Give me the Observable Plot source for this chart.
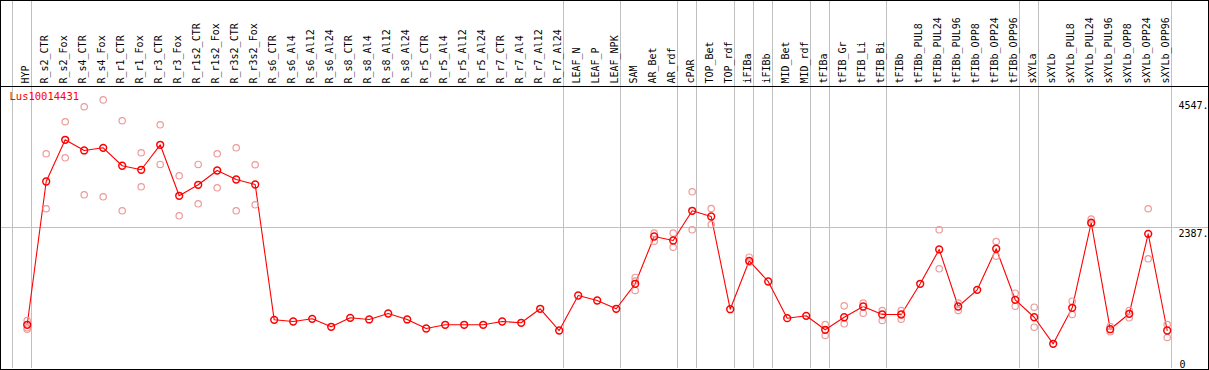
<!DOCTYPE html>
<html>
<head>
<meta charset="utf-8">
<script src="https://cdn.jsdelivr.net/npm/d3@7"></script>
<script src="https://cdn.jsdelivr.net/npm/@observablehq/plot@0.6"></script>
<style>
  html, body { margin: 0; padding: 0; background: #fff; }
  #chart svg { display: block; outline: 1px solid #000; outline-offset: -1px; }
</style>
</head>
<body>
<div id="chart"></div>
<script>
const gene = "Lus10014431";

const categories = [
  "HYP",
  "R_s2_CTR","R_s2_Fox","R_s4_CTR","R_s4_Fox","R_r1_CTR","R_r1_Fox","R_r3_CTR","R_r3_Fox",
  "R_r1s2_CTR","R_r1s2_Fox","R_r3s2_CTR","R_r3s2_Fox",
  "R_s6_CTR","R_s6_Al4","R_s6_Al12","R_s6_Al24",
  "R_s8_CTR","R_s8_Al4","R_s8_Al12","R_s8_Al24",
  "R_r5_CTR","R_r5_Al4","R_r5_Al12","R_r5_Al24",
  "R_r7_CTR","R_r7_Al4","R_r7_Al12","R_r7_Al24",
  "LEAF_N","LEAF_P","LEAF_NPK",
  "SAM","AR_Bet","AR_rdf","cPAR","TOP_Bet","TOP_rdf","iFIBa","iFIBb","MID_Bet","MID_rdf",
  "tFIBa","tFIB_Gr","tFIB_Li","tFIB_Bi","tFIBb",
  "tFIBb_PUL8","tFIBb_PUL24","tFIBb_PUL96","tFIBb_OPP8","tFIBb_OPP24","tFIBb_OPP96",
  "sXYLa","sXYLb",
  "sXYLb_PUL8","sXYLb_PUL24","sXYLb_PUL96","sXYLb_OPP8","sXYLb_OPP24","sXYLb_OPP96"
];

const means = [
  740,
  3166, 3872, 3691, 3736, 3432, 3364, 3787, 2924,
  3110, 3352, 3200, 3115,
  824, 796, 841, 706,
  858, 830, 931, 830,
  677, 740, 740, 740,
  796, 774, 1011, 643,
  1236, 1151, 1011,
  1434, 2235, 2167, 2670, 2573, 1004, 1823, 1473, 852, 892,
  655, 868, 1050, 914, 914,
  1434, 2015, 1050, 1332, 2027, 1163,
  868, 418,
  1028, 2467, 665, 926, 2280, 643
];

const replicates = [
  [813, 689, 665],
  [3635, 2704], [4177, 3567], [4431, 2941], [4547, 2907], [4194, 2670], [3652, 3076], [4126, 3454], [3262, 2585],
  [3454, 2788], [3635, 3059], [3736, 2670], [3449, 2771],
  [], [], [], [],
  [], [], [], [],
  [], [], [], [],
  [], [], [], [],
  [], [], [],
  [1541, 1480, 1321], [2291, 2155], [2291, 2054], [2991, 2348], [2709, 2438], [], [1884, 1800], [], [], [],
  [745, 559], [1061, 757], [1106, 936], [982, 813], [982, 835],
  [], [2348, 1688], [1106, 982], [], [2150, 1901], [1275, 1055],
  [1038, 699], [],
  [1139, 914], [2528, 2450], [711, 621], [982, 858], [2704, 1857], [745, 525]
];

// indices after which a grey group separator is drawn (-1 = before first)
const separators = [-1, 0, 28, 31, 34, 35, 37, 38, 39, 41, 42, 45, 52, 53, 60];

const yTickValues = [4547, 2387, 0];
const yTickLabels = ["4547.", "2387.", "0"];
const midLine = [2387];
const dataTop = [4774];

const meanData = means.map((v, i) => ({i, v}));
const repData = replicates.flatMap((arr, i) => arr.map(v => ({i, v})));
const catData = categories.map((c, i) => ({i, c}));
const tickData = yTickValues.map((v, k) => ({v, label: yTickLabels[k]}));

const W = 1209, H = 370;
const chart = Plot.plot({
  width: W,
  height: H,
  marginTop: 0,
  marginBottom: 2,
  marginLeft: 0,
  marginRight: 0,
  style: {fontFamily: "DejaVu Sans Mono", fontSize: "10px", background: "#fff", overflow: "visible"},
  x: {domain: [-1.405, 62.226], axis: null},
  y: {domain: [0, dataTop[0] * 368 / 282], axis: null},
  marks: [
    Plot.ruleX(separators, {x: d => d, dx: 4, stroke: "#c0c0c0", strokeWidth: 1, shapeRendering: "crispEdges"}),
    Plot.ruleY(midLine, {y: d => d, stroke: "#c0c0c0", strokeWidth: 1, shapeRendering: "crispEdges"}),
    Plot.ruleY(dataTop, {y: d => d, stroke: "#000", strokeWidth: 1, shapeRendering: "crispEdges"}),
    Plot.text(catData, {x: "i", y: () => dataTop[0], text: "c", rotate: -90, textAnchor: "start", lineAnchor: "middle", dy: -3, dx: -1, fill: "#000", fontSize: 10}),
    Plot.text([gene], {x: () => -1.405, y: () => dataTop[0], text: d => d, textAnchor: "start", lineAnchor: "top", dx: 9, dy: 6, fill: "#ff0000", fontSize: 10.5}),
    Plot.text(tickData.filter(d => d.v !== 0), {frameAnchor: "right", y: "v", text: "label", textAnchor: "start", lineAnchor: "top", dx: -31, dy: 2, fill: "#000", fontSize: 10}),
    Plot.text(tickData.filter(d => d.v === 0), {frameAnchor: "right", y: "v", text: "label", textAnchor: "start", lineAnchor: "bottom", dx: -30, dy: -1, fill: "#000", fontSize: 10}),
    Plot.line(meanData, {x: "i", y: "v", stroke: "#ff0000", strokeWidth: 1.1}),
    Plot.dot(repData, {x: "i", y: "v", r: 3.2, stroke: "#ee9a9a", strokeWidth: 1.2, fill: "none"}),
    Plot.dot(meanData, {x: "i", y: "v", r: 3.4, stroke: "#ff0000", strokeWidth: 1.5, fill: "none"})
  ]
});
document.getElementById("chart").appendChild(chart);
</script>
</body>
</html>
